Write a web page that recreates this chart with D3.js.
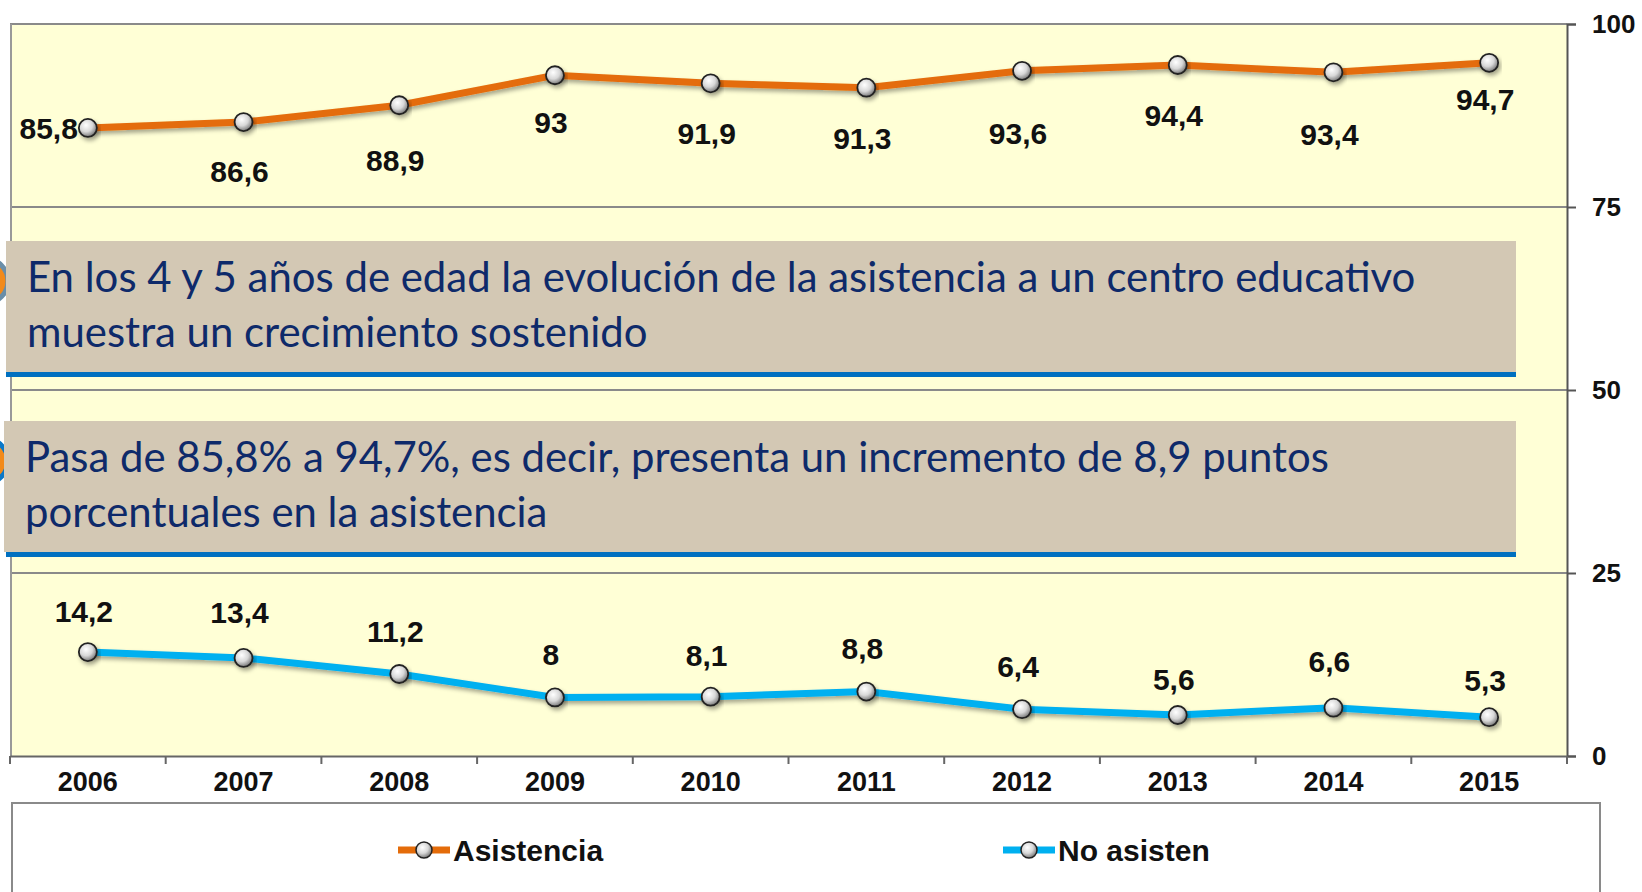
<!DOCTYPE html>
<html>
<head>
<meta charset="utf-8">
<script src="https://cdn.jsdelivr.net/npm/d3@7"></script>
<style>
  html, body { margin: 0; padding: 0; background: #ffffff; }
  svg { display: block; }
</style>
</head>
<body>
<svg id="chart" width="1642" height="892"></svg>
<script>
// ---- data ----
const years = ["2006","2007","2008","2009","2010","2011","2012","2013","2014","2015"];
const asistencia = [85.8, 86.6, 88.9, 93, 91.9, 91.3, 93.6, 94.4, 93.4, 94.7];
const noAsisten = [14.2, 13.4, 11.2, 8, 8.1, 8.8, 6.4, 5.6, 6.6, 5.3];
const asistenciaLabels = ["85,8","86,6","88,9","93","91,9","91,3","93,6","94,4","93,4","94,7"];
const noAsistenLabels = ["14,2","13,4","11,2","8","8,1","8,8","6,4","5,6","6,6","5,3"];
const yTicks = [0, 25, 50, 75, 100];
const seriesNames = ["Asistencia", "No asisten"];
const callout1 = ["En los 4 y 5 años de edad la evolución de la asistencia a un centro educativo",
                  "muestra un crecimiento sostenido"];
const callout2 = ["Pasa de 85,8% a 94,7%, es decir, presenta un incremento de 8,9 puntos",
                  "porcentuales en la asistencia"];
// label placement (pixel offsets from each point)
const asisLabelDy = [0, 49, 55, 47, 50, 51, 62, 50, 62, 36];
const noLabelDy = [-41, -46, -43, -43, -42, -43, -43, -36, -46, -37];

// ---- layout ----
const svg = d3.select("#chart");
const plot = {left: 10, right: 1567, top: 24, bottom: 756};
const x = d3.scaleBand().domain(years).range([plot.left, plot.right]);
const y = d3.scaleLinear().domain([0, 100]).range([plot.bottom, plot.top]);
const colAsis = "#E46C0A", colNo = "#00B0F0";

const defs = svg.append("defs");
const grad = defs.append("radialGradient").attr("id", "mk").attr("cx", "40%").attr("cy", "35%").attr("r", "65%");
grad.append("stop").attr("offset", "0%").attr("stop-color", "#ffffff");
grad.append("stop").attr("offset", "55%").attr("stop-color", "#d8d8d8");
grad.append("stop").attr("offset", "100%").attr("stop-color", "#7a7a7a");
const sh = defs.append("filter").attr("id", "sh").attr("x", "-20%").attr("y", "-50%").attr("width", "140%").attr("height", "200%");
sh.append("feDropShadow").attr("dx", 2).attr("dy", 3).attr("stdDeviation", 2)
  .attr("flood-color", "#000").attr("flood-opacity", 0.35);

// plot background
svg.append("rect").attr("x", plot.left).attr("y", plot.top)
  .attr("width", plot.right - plot.left).attr("height", plot.bottom - plot.top)
  .attr("fill", "#FFFFD6");

// gridlines
svg.append("g").selectAll("line").data(yTicks.filter(d => d > 0)).join("line")
  .attr("x1", plot.left).attr("x2", plot.right)
  .attr("y1", d => y(d)).attr("y2", d => y(d))
  .attr("stroke", "#8a8a8a").attr("stroke-width", 2);
// left border
svg.append("line").attr("x1", plot.left + 1).attr("x2", plot.left + 1)
  .attr("y1", plot.top).attr("y2", plot.bottom)
  .attr("stroke", "#999").attr("stroke-width", 2);

// right axis
const yAxis = d3.axisRight(y).tickValues(yTicks).tickSize(9).tickPadding(16).tickFormat(d3.format("d"));
const ya = svg.append("g").attr("transform", `translate(${plot.right},0)`).call(yAxis);
ya.select(".domain").attr("stroke", "#555").attr("stroke-width", 2);
ya.selectAll(".tick line").attr("stroke", "#555").attr("stroke-width", 2);
ya.selectAll(".tick text").attr("font-family", "Liberation Sans, Arial, sans-serif")
  .attr("font-weight", "bold").attr("font-size", 26).attr("fill", "#111");

// bottom axis
const xa = svg.append("g").attr("transform", `translate(0,${plot.bottom})`)
  .call(d3.axisBottom(x).tickSize(0).tickPadding(16));
xa.select(".domain").attr("stroke", "#666").attr("stroke-width", 2);
xa.selectAll(".tick text").attr("font-family", "Liberation Sans, Arial, sans-serif")
  .attr("font-weight", "bold").attr("font-size", 27).attr("fill", "#111");
const bounds = years.map(d => x(d)).concat([x(years[years.length - 1]) + x.bandwidth()]);
svg.append("g").selectAll("line").data(bounds).join("line")
  .attr("x1", d => d).attr("x2", d => d)
  .attr("y1", plot.bottom).attr("y2", plot.bottom + 8)
  .attr("stroke", "#666").attr("stroke-width", 2);

// lines
const cx = (d, i) => x(years[i]) + x.bandwidth() / 2;
const line = d3.line().x(cx).y(d => y(d));
function drawSeries(vals, col) {
  svg.append("path").datum(vals).attr("d", line).attr("fill", "none")
    .attr("stroke", col).attr("stroke-width", 7).attr("filter", "url(#sh)");
  svg.append("g").selectAll("circle").data(vals).join("circle")
    .attr("cx", cx).attr("cy", d => y(d)).attr("r", 9)
    .attr("fill", "url(#mk)").attr("stroke", "#222").attr("stroke-width", 1.8)
    .attr("filter", "url(#sh)");
}
drawSeries(asistencia, colAsis);
drawSeries(noAsisten, colNo);

// data labels
function drawLabels(vals, labels, dys, isTop) {
  svg.append("g").selectAll("text").data(vals).join("text")
    .attr("x", (d, i) => (isTop && i === 0) ? cx(d, i) - 10 : cx(d, i) - 4)
    .attr("y", (d, i) => y(d) + dys[i])
    .attr("dy", "0.36em")
    .attr("text-anchor", (d, i) => (isTop && i === 0) ? "end" : "middle")
    .attr("font-family", "Liberation Sans, Arial, sans-serif")
    .attr("font-weight", "bold").attr("font-size", 30).attr("fill", "#111")
    .text((d, i) => labels[i]);
}
drawLabels(asistencia, asistenciaLabels, asisLabelDy, true);
drawLabels(noAsisten, noAsistenLabels, noLabelDy, false);

// callout boxes
function callout(lines, top, left, ringCol, targetW) {
  svg.append("circle").attr("cx", -14).attr("cy", top + 40).attr("r", 22)
    .attr("fill", "#F28A1A").attr("stroke", ringCol).attr("stroke-width", 5);
  svg.append("rect").attr("x", left).attr("y", top).attr("width", 1516 - left).attr("height", 131)
    .attr("fill", "#D3C8B4");
  svg.append("rect").attr("x", 6).attr("y", top + 131).attr("width", 1510).attr("height", 5)
    .attr("fill", "#0070C0");
  const g = svg.append("g");
  const t = g.selectAll("text").data(lines).join("text")
    .attr("x", left + 21).attr("y", (d, i) => top + 51 + i * 55)
    .attr("font-family", "Lato, 'Open Sans', sans-serif")
    .attr("font-size", 40).attr("fill", "#0E2A6A").text(d => d);
  const w = t.nodes()[0].getComputedTextLength();
  t.attr("font-size", 40 * targetW / w);
}
callout(callout1, 241, 6, "#6A8EA8", 1389);
callout(callout2, 421, 4, "#0A78C8", 1304);

// legend
svg.append("rect").attr("x", 12).attr("y", 803).attr("width", 1588).attr("height", 120)
  .attr("fill", "#fff").attr("stroke", "#8a8a8a").attr("stroke-width", 2);
const leg = svg.append("g").selectAll("g").data(seriesNames).join("g")
  .attr("transform", (d, i) => `translate(${i === 0 ? 398 : 1003},850)`);
leg.append("line").attr("x1", 0).attr("x2", 52).attr("y1", 0).attr("y2", 0)
  .attr("stroke", (d, i) => i === 0 ? colAsis : colNo).attr("stroke-width", 7);
leg.append("circle").attr("cx", 26).attr("cy", 0).attr("r", 8)
  .attr("fill", "url(#mk)").attr("stroke", "#222").attr("stroke-width", 1.5);
leg.append("text").attr("x", 55).attr("y", 0).attr("dy", "0.36em")
  .attr("font-family", "Liberation Sans, Arial, sans-serif").attr("font-weight", "bold")
  .attr("font-size", 30).attr("fill", "#111").text(d => d);
</script>
</body>
</html>
